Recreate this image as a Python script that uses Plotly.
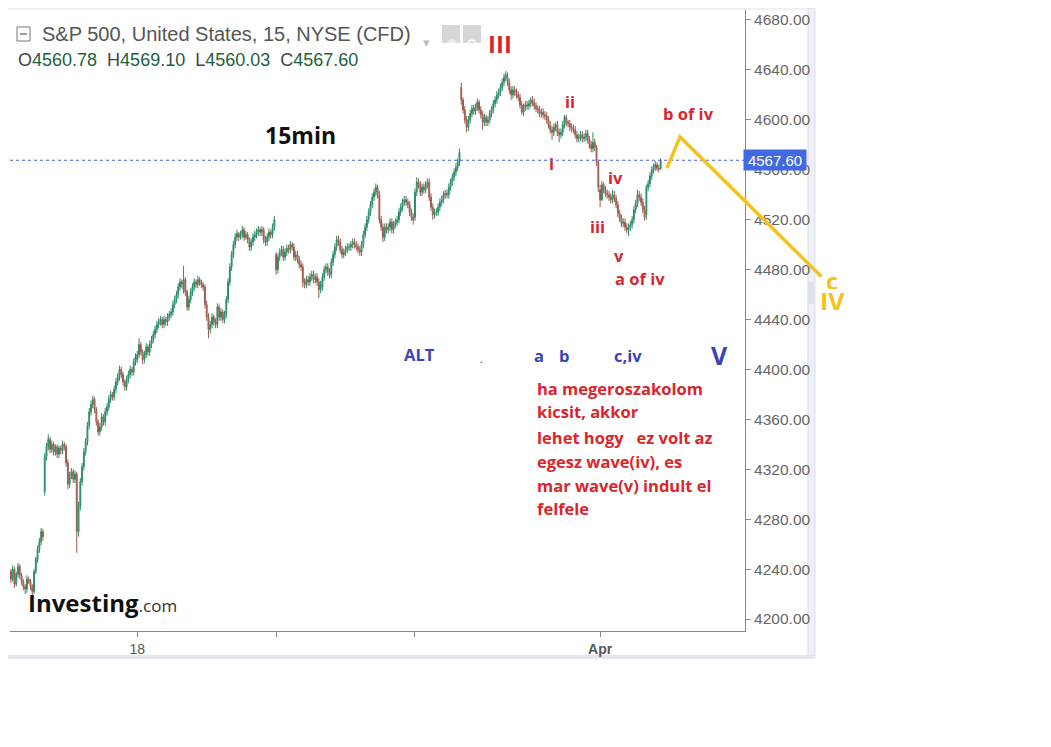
import plotly.graph_objects as go

# S&P 500 (CFD) 15 min candles
# one row per session, 26 bars per session (Mar 15 is cut on the left, Apr 4 still running)
# open of a bar = close of the bar before, except the first bar of each session
day_names = ["Mar 15", "Mar 16", "Mar 17", "Mar 18", "Mar 21", "Mar 22", "Mar 23", "Mar 24",
             "Mar 25", "Mar 28", "Mar 29", "Mar 30", "Mar 31", "Apr 1", "Apr 4"]
day_open = [4236, 4302, 4366, 4408, 4464, 4470, 4492, 4466, 4520, 4522, 4626, 4634, 4590, 4544, 4524]

close_by_day = [
    [4238, 4232, 4240, 4228, 4236, 4242, 4235, 4230, 4226, 4224, 4232, 4230, 4226, 4222, 4238, 4248, 4256, 4262, 4270, 4266],
    [4330, 4338, 4344, 4336, 4340, 4334, 4338, 4332, 4337, 4335, 4340, 4338, 4325, 4308, 4315, 4318, 4312, 4316, 4270, 4290, 4310, 4322, 4334, 4342, 4355, 4366],
    [4372, 4376, 4368, 4358, 4350, 4354, 4362, 4358, 4366, 4370, 4376, 4380, 4378, 4384, 4390, 4394, 4400, 4396, 4390, 4386, 4392, 4396, 4400, 4398, 4406, 4410],
    [4412, 4420, 4414, 4408, 4412, 4418, 4414, 4420, 4424, 4428, 4432, 4436, 4438, 4440, 4436, 4440, 4438, 4442, 4444, 4446, 4452, 4456, 4460, 4466, 4470, 4468],
    [4472, 4462, 4450, 4456, 4462, 4466, 4470, 4468, 4472, 4470, 4468, 4466, 4452, 4442, 4432, 4436, 4442, 4438, 4436, 4450, 4442, 4446, 4440, 4444, 4456, 4470],
    [4482, 4492, 4500, 4506, 4509, 4506, 4508, 4512, 4506, 4508, 4504, 4498, 4502, 4506, 4508, 4510, 4512, 4510, 4512, 4504, 4502, 4506, 4510, 4508, 4514, 4520],
    [4480, 4490, 4494, 4496, 4490, 4494, 4497, 4496, 4500, 4498, 4490, 4492, 4488, 4484, 4482, 4470, 4468, 4472, 4470, 4474, 4476, 4472, 4474, 4470, 4464, 4468],
    [4474, 4480, 4482, 4478, 4476, 4486, 4492, 4498, 4504, 4502, 4496, 4492, 4494, 4496, 4498, 4498, 4500, 4502, 4500, 4498, 4496, 4494, 4500, 4508, 4514, 4520],
    [4526, 4532, 4538, 4542, 4546, 4540, 4520, 4514, 4506, 4514, 4512, 4514, 4518, 4512, 4516, 4518, 4520, 4526, 4530, 4534, 4536, 4534, 4532, 4526, 4522, 4520],
    [4542, 4550, 4548, 4542, 4546, 4544, 4548, 4550, 4538, 4530, 4524, 4526, 4526, 4530, 4534, 4536, 4540, 4541, 4540, 4546, 4550, 4554, 4558, 4562, 4566, 4574],
    [4616, 4608, 4600, 4594, 4600, 4605, 4609, 4607, 4610, 4614, 4608, 4604, 4598, 4602, 4598, 4600, 4605, 4608, 4613, 4616, 4620, 4622, 4626, 4630, 4634, 4636],
    [4630, 4624, 4620, 4624, 4622, 4620, 4618, 4612, 4606, 4610, 4612, 4611, 4613, 4616, 4614, 4611, 4609, 4608, 4605, 4606, 4604, 4603, 4600, 4596, 4592, 4590],
    [4594, 4596, 4590, 4588, 4590, 4596, 4602, 4598, 4597, 4594, 4593, 4592, 4588, 4585, 4586, 4588, 4585, 4586, 4589, 4584, 4580, 4577, 4582, 4578, 4566, 4546],
    [4536, 4548, 4544, 4541, 4540, 4538, 4536, 4540, 4537, 4532, 4525, 4521, 4517, 4518, 4514, 4512, 4514, 4516, 4520, 4528, 4533, 4540, 4538, 4534, 4528, 4522],
    [4546, 4549, 4555, 4560, 4562, 4564, 4561, 4560.78, 4567.60],
]
high_by_day = [
    [4241, 4240, 4243, 4242, 4238, 4245, 4244, 4237, 4232, 4228, 4235, 4234, 4232, 4228, 4240, 4250, 4259, 4265, 4273, 4272],
    [4333, 4341, 4348, 4346, 4343, 4342, 4340, 4340, 4339, 4339, 4343, 4342, 4340, 4328, 4318, 4321, 4320, 4319, 4318, 4294, 4313, 4325, 4337, 4345, 4358, 4369],
    [4375, 4379, 4378, 4370, 4360, 4357, 4365, 4364, 4369, 4373, 4379, 4383, 4382, 4387, 4393, 4397, 4403, 4402, 4398, 4392, 4395, 4399, 4403, 4402, 4409, 4413],
    [4415, 4425, 4422, 4416, 4415, 4421, 4420, 4423, 4427, 4431, 4435, 4439, 4441, 4443, 4442, 4443, 4442, 4445, 4447, 4449, 4455, 4459, 4463, 4469, 4473, 4472],
    [4483, 4474, 4464, 4459, 4465, 4469, 4473, 4472, 4475, 4474, 4472, 4470, 4468, 4455, 4445, 4439, 4445, 4444, 4441, 4453, 4452, 4449, 4448, 4447, 4459, 4473],
    [4485, 4495, 4503, 4509, 4512, 4510, 4511, 4515, 4514, 4511, 4510, 4506, 4505, 4509, 4511, 4513, 4515, 4514, 4515, 4514, 4507, 4509, 4513, 4512, 4517, 4523],
    [4494, 4493, 4497, 4499, 4499, 4497, 4500, 4500, 4503, 4502, 4501, 4495, 4495, 4491, 4487, 4485, 4473, 4475, 4475, 4477, 4479, 4479, 4477, 4477, 4473, 4471],
    [4477, 4483, 4485, 4485, 4481, 4489, 4495, 4501, 4507, 4507, 4505, 4499, 4497, 4499, 4501, 4501, 4503, 4505, 4505, 4503, 4501, 4499, 4503, 4511, 4517, 4523],
    [4529, 4535, 4541, 4545, 4549, 4548, 4543, 4523, 4517, 4517, 4517, 4517, 4521, 4521, 4519, 4521, 4523, 4529, 4533, 4537, 4539, 4539, 4537, 4535, 4529, 4525],
    [4545, 4554, 4553, 4551, 4549, 4549, 4551, 4553, 4553, 4541, 4533, 4529, 4529, 4533, 4537, 4539, 4543, 4544, 4544, 4549, 4553, 4557, 4561, 4565, 4569, 4577],
    [4630, 4618, 4611, 4603, 4603, 4608, 4612, 4612, 4613, 4617, 4616, 4611, 4607, 4605, 4604, 4603, 4608, 4611, 4616, 4619, 4623, 4625, 4629, 4633, 4637, 4639],
    [4638, 4633, 4627, 4627, 4627, 4625, 4623, 4621, 4615, 4613, 4615, 4615, 4616, 4618, 4619, 4617, 4614, 4612, 4611, 4609, 4609, 4607, 4606, 4603, 4599, 4595],
    [4597, 4598, 4599, 4593, 4593, 4599, 4604, 4604, 4600, 4600, 4597, 4596, 4595, 4591, 4589, 4591, 4591, 4589, 4592, 4592, 4587, 4583, 4590, 4585, 4580, 4568],
    [4548, 4551, 4550, 4547, 4544, 4543, 4541, 4544, 4543, 4540, 4535, 4528, 4524, 4521, 4521, 4517, 4517, 4519, 4523, 4531, 4536, 4544, 4543, 4541, 4537, 4531],
    [4548, 4552, 4558, 4563, 4565, 4567, 4566, 4564, 4569.10],
]
low_by_day = [
    [4233, 4229, 4230, 4225, 4226, 4233, 4232, 4227, 4223, 4220, 4221, 4228, 4223, 4218, 4220, 4236, 4245, 4253, 4259, 4263],
    [4299, 4327, 4335, 4333, 4333, 4331, 4331, 4329, 4329, 4332, 4332, 4335, 4322, 4304, 4305, 4312, 4309, 4309, 4253, 4266, 4287, 4307, 4319, 4331, 4339, 4352],
    [4363, 4369, 4365, 4355, 4347, 4347, 4351, 4355, 4355, 4363, 4367, 4373, 4375, 4375, 4381, 4387, 4391, 4393, 4387, 4383, 4383, 4389, 4393, 4395, 4395, 4403],
    [4405, 4409, 4411, 4404, 4405, 4409, 4411, 4411, 4417, 4421, 4425, 4429, 4433, 4435, 4433, 4433, 4435, 4435, 4439, 4441, 4443, 4449, 4453, 4457, 4463, 4465],
    [4461, 4459, 4447, 4447, 4453, 4459, 4463, 4465, 4465, 4467, 4465, 4463, 4449, 4439, 4425, 4429, 4433, 4435, 4433, 4433, 4439, 4439, 4437, 4437, 4441, 4453],
    [4467, 4479, 4489, 4497, 4503, 4503, 4504, 4505, 4503, 4504, 4501, 4495, 4495, 4499, 4503, 4505, 4507, 4507, 4507, 4501, 4499, 4499, 4503, 4505, 4505, 4511],
    [4476, 4477, 4487, 4491, 4487, 4487, 4491, 4493, 4493, 4495, 4487, 4487, 4485, 4481, 4479, 4466, 4465, 4465, 4467, 4467, 4471, 4469, 4469, 4467, 4457, 4461],
    [4463, 4471, 4477, 4475, 4473, 4473, 4483, 4489, 4495, 4499, 4493, 4489, 4489, 4491, 4493, 4495, 4495, 4497, 4497, 4495, 4493, 4491, 4491, 4497, 4505, 4511],
    [4517, 4523, 4529, 4535, 4539, 4537, 4517, 4511, 4502, 4503, 4509, 4509, 4511, 4509, 4509, 4513, 4515, 4517, 4523, 4527, 4531, 4531, 4529, 4523, 4519, 4516],
    [4519, 4539, 4545, 4539, 4539, 4541, 4541, 4545, 4535, 4527, 4520, 4521, 4523, 4523, 4527, 4531, 4533, 4537, 4537, 4537, 4543, 4547, 4551, 4555, 4559, 4563],
    [4612, 4605, 4597, 4590, 4591, 4597, 4602, 4604, 4604, 4607, 4605, 4601, 4592, 4595, 4595, 4595, 4597, 4602, 4605, 4610, 4613, 4617, 4619, 4623, 4627, 4631],
    [4627, 4621, 4616, 4617, 4619, 4617, 4615, 4609, 4604, 4603, 4607, 4608, 4608, 4610, 4611, 4608, 4606, 4605, 4602, 4602, 4601, 4600, 4597, 4593, 4589, 4584],
    [4587, 4591, 4587, 4582, 4585, 4587, 4593, 4595, 4594, 4591, 4590, 4589, 4585, 4582, 4582, 4583, 4582, 4582, 4583, 4581, 4577, 4574, 4574, 4575, 4563, 4542],
    [4530, 4535, 4541, 4538, 4537, 4535, 4533, 4533, 4534, 4529, 4522, 4518, 4514, 4514, 4511, 4509, 4507, 4511, 4513, 4517, 4525, 4530, 4535, 4531, 4525, 4519],
    [4520, 4543, 4546, 4552, 4557, 4559, 4559, 4558, 4560.03],
]

last_price = 4567.60
tick_days = ["Mar 18", "Mar 23", "Mar 28", "Apr 1"]
tick_text = ["18", "", "", "<b>Apr</b>"]

bars_per_day = 26

# flatten into one bar index (no time gaps, like the investing chart)
xs, opens, highs, lows, closes = [], [], [], [], []
for d in range(len(day_names)):
    cl = close_by_day[d]
    start = d * bars_per_day
    if d == 0:
        start = bars_per_day - len(cl)
    prev = day_open[d]
    for k in range(len(cl)):
        xs.append(start + k)
        opens.append(prev)
        closes.append(cl[k])
        highs.append(high_by_day[d][k])
        lows.append(low_by_day[d][k])
        prev = cl[k]

tickvals = [day_names.index(t) * bars_per_day for t in tick_days]

X0, X1 = 6.5, 419.4
Y0, Y1 = 4190.4, 4688.0


def to_paper(g, p):
    return (g - X0) / (X1 - X0), (p - Y0) / (Y1 - Y0)


def pix(px, py):
    # screen pixel -> paper coords (plot area shows up at 10..745 x 10..631, page has 8px body margin)
    return (px - 10) / 735, (631 - py) / 621


RED = "#d8262c"
BLUE = "#3a44b8"
YELLOW = "#f5c21c"
ANN_FONT = "Open Sans"

fig = go.Figure()
fig.add_trace(go.Candlestick(
    x=xs, open=opens, high=highs, low=lows, close=closes,
    increasing=dict(fillcolor="#2fc48c", line=dict(color="#2b8a64", width=1)),
    decreasing=dict(fillcolor="#e8907c", line=dict(color="#99594b", width=1)),
    whiskerwidth=0, hoverinfo="skip", showlegend=False))

shapes = []


def rect_px(x0, y0, x1, y1, fill, line=None):
    a0, b0 = pix(x0, y0)
    a1, b1 = pix(x1, y1)
    return dict(type="rect", xref="paper", yref="paper", x0=a0, y0=b0, x1=a1, y1=b1,
                fillcolor=fill, line=dict(width=1 if line else 0, color=line or fill), layer="below")


# widget frame bits
shapes.append(rect_px(8, 8, 815, 10, "#eef0f5"))
shapes.append(rect_px(808, 8, 815, 658, "#eef0f5", "#dcdfe6"))
shapes.append(rect_px(8, 655, 815, 659, "#e4e7ee"))
shapes.append(rect_px(808, 282, 814, 304, "#dfe2e8"))

# collapse icon + eye / gear buttons in the header
shapes.append(rect_px(17, 27, 30, 41, "#ffffff", "#777777"))
a0, b0 = pix(20, 34)
a1, b1 = pix(27, 34)
shapes.append(dict(type="line", xref="paper", yref="paper", x0=a0, y0=b0, x1=a1, y1=b1,
                   line=dict(color="#777777", width=1.5)))
shapes.append(rect_px(442, 25, 460, 43, "#d6d6d6"))
shapes.append(rect_px(463, 25, 481, 43, "#d6d6d6"))

# last price dotted line
shapes.append(dict(type="line", xref="paper", yref="y", x0=0, x1=1, y0=last_price, y1=last_price,
                   line=dict(color="#4a5fd0", width=1, dash="dot")))

# yellow hand drawn path b -> c
path_pts = [(375.6, 4561.4), (382.9, 4586.3), (462.4, 4474.3)]
pp = [to_paper(g, p) for g, p in path_pts]
path = "M " + " L ".join(f"{a},{b}" for a, b in pp)
shapes.append(dict(type="path", xref="paper", yref="paper", path=path,
                   line=dict(color=YELLOW, width=3.5)))

ann = []
# header
x, y = pix(40, 34)
ann.append(dict(x=x, y=y, xref="paper", yref="paper", xanchor="left", yanchor="middle", showarrow=False,
                text="S&P 500, United States, 15, NYSE (CFD)",
                font=dict(family="Liberation Sans", size=20, color="#555555")))
x, y = pix(426, 33)
ann.append(dict(x=x, y=y, xref="paper", yref="paper", xanchor="center", showarrow=False, text="▾",
                font=dict(family="DejaVu Sans", size=13, color="#bbbbbb")))
for gx, glyph in [(451, "◉"), (472, "⚙")]:
    x, y = pix(gx, 34)
    ann.append(dict(x=x, y=y, xref="paper", yref="paper", xanchor="center", showarrow=False, text=glyph,
                    font=dict(family="DejaVu Sans", size=13, color="#ffffff")))
sep = "&nbsp;&nbsp;"
ohlc = (f"O<span style='color:#1f5f3b'>4560.78</span>{sep}H<span style='color:#1f5f3b'>4569.10</span>"
        f"{sep}L<span style='color:#1f5f3b'>4560.03</span>{sep}C<span style='color:#1f5f3b'>4567.60</span>")
x, y = pix(16, 60)
ann.append(dict(x=x, y=y, xref="paper", yref="paper", xanchor="left", yanchor="middle", showarrow=False,
                text=ohlc, font=dict(family="Liberation Sans", size=18, color="#444444")))
x, y = pix(300, 117)
ann.append(dict(x=x, y=y, xref="paper", yref="paper", xanchor="center", showarrow=False, text="<b>15min</b>",
                font=dict(family=ANN_FONT, size=23, color="#111111")))

# logo
x, y = pix(26, 602)
ann.append(dict(x=x, y=y, xref="paper", yref="paper", xanchor="left", yanchor="middle", showarrow=False,
                text="<b>Investing</b><span style='font-size:17px;color:#333333'>.com</span>",
                font=dict(family=ANN_FONT, size=24, color="#111111")))

# wave labels, in bar index / price
labels = [
    ("III", 281.8, 4660.8, RED, 24),
    ("ii", 321.1, 4614.3, RED, 16.5),
    ("i", 310.5, 4565.4, RED, 16.5),
    ("iv", 346.4, 4553.4, RED, 16.5),
    ("iii", 336.3, 4514.9, RED, 16.5),
    ("v", 348.6, 4490.9, RED, 16.5),
    ("a of iv", 360.4, 4472.5, RED, 16.5),
    ("b of iv", 387.4, 4604.7, RED, 16.5),
    ("ALT", 236.3, 4411.6, BLUE, 16.5),
    (".", 271.1, 4408.0, BLUE, 8),
    ("a", 303.7, 4410.8, BLUE, 16.5),
    ("b", 317.7, 4410.8, BLUE, 16.5),
    ("c,iv", 353.7, 4410.8, BLUE, 16.5),
    ("V", 404.8, 4411.6, BLUE, 25),
]
for txt, g, p, col, sz in labels:
    ann.append(dict(x=g, y=p, xref="x", yref="y", showarrow=False, text=f"<b>{txt}</b>",
                    font=dict(family=ANN_FONT, size=sz, color=col)))

note_lines = ["ha megeroszakolom", "kicsit, akkor", "lehet hogy   ez volt az",
              "egesz wave(iv), es", "mar wave(v) indult el", "felfele"]
note_y = [4385.1, 4365.9, 4345.8, 4326.6, 4306.6, 4288.2]
for txt, p in zip(note_lines, note_y):
    ann.append(dict(x=301.5, y=p, xref="x", yref="y", xanchor="left", yanchor="middle", showarrow=False,
                    text=f"<b>{txt.replace('   ', '&nbsp;&nbsp;&nbsp;')}</b>",
                    font=dict(family=ANN_FONT, size=16.5, color=RED)))

# yellow c / IV sit outside the plot, so paper coords (tight boxes so they stack like the drawing)
for txt, g, p, sz, hgt in [("c", 468.0, 4471.2, 23, 16), ("IV", 468.6, 4455.0, 25, 18)]:
    x, y = to_paper(g, p)
    ann.append(dict(x=x, y=y, xref="paper", yref="paper", xanchor="center", yanchor="middle",
                    showarrow=False, text=f"<b>{txt}</b>", height=hgt,
                    font=dict(family=ANN_FONT, size=sz, color=YELLOW)))

# price tag on the axis
ann.append(dict(x=1, y=last_price, xref="paper", yref="y", xanchor="left", yanchor="middle",
                xshift=-2, showarrow=False, text="4567.60", bgcolor="#4169e1", width=60, height=18,
                font=dict(family="Liberation Sans", size=15, color="#ffffff")))

fig.update_layout(
    width=1043, height=739,
    margin=dict(l=2, r=306, t=2, b=116),
    paper_bgcolor="white", plot_bgcolor="white",
    shapes=shapes, annotations=ann,
    xaxis=dict(range=[X0, X1], rangeslider=dict(visible=False), showgrid=False, zeroline=False,
               tickmode="array", tickvals=tickvals, ticktext=tick_text, ticks="outside", ticklen=5,
               tickcolor="#888888", showline=True, linecolor="#888888",
               tickfont=dict(family="Liberation Sans", size=14, color="#555555")),
    yaxis=dict(range=[Y0, Y1], side="right", showgrid=False, zeroline=False, dtick=40,
               tickformat=".2f", ticks="outside", ticklen=5, tickcolor="#888888",
               showline=True, linecolor="#888888",
               tickfont=dict(family="Liberation Sans", size=15.5, color="#666666")),
)

fig.write_html("out.html")
